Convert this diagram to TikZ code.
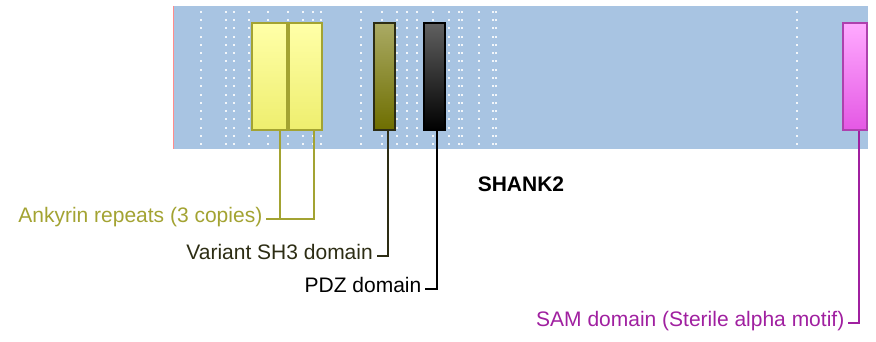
\documentclass[tikz,border=0pt]{standalone}
\usepackage{fontspec}
\setmainfont{Liberation Sans}
\definecolor{bandblue}{RGB}{168,196,226}
\definecolor{ankcol}{RGB}{163,163,50}
\definecolor{sh3col}{RGB}{45,45,20}
\definecolor{samcol}{RGB}{160,32,160}
\begin{document}
\begin{tikzpicture}[x=1pt, y=-1pt,
    band/.style={rectangle, fill=bandblue, minimum width=694pt, minimum height=143pt, inner sep=0pt},
    dom/.style={rectangle, line width=2pt, minimum height=106.7pt, inner sep=0pt},
    lab/.style={anchor=east, inner xsep=3.5pt, inner ysep=0pt, font=\fontsize{21}{25}\selectfont, text height=0.92em, text depth=0.2em},
    conn/.style={line width=1.9pt}
]
\useasboundingbox (0,0) rectangle (876,342);

% Protein band
\node[band] (shank) at (521,77.5) {};
\draw[red!45, line width=1pt] (shank.north west) -- (shank.south west);
\foreach \x in {201,226,234,249,268,288,303,313,321,361,382,397,407,417,433,449,459,462,479,493,496,797}
  \foreach \i in {0,...,16}
    \fill[white, opacity=0.85] (\x-1,11.7+8.29*\i-1) rectangle ++(2,2);
\node[font=\fontsize{21}{25}\selectfont\bfseries] (name) at (521,184) {SHANK2};

% Domains
\node[dom, minimum width=35pt, draw=ankcol, top color={rgb,255:red,255;green,255;blue,168}, bottom color={rgb,255:red,238;green,238;blue,110}] (anka) at (269.8,76.7) {};
\node[dom, minimum width=32.4pt, draw=ankcol, top color={rgb,255:red,255;green,255;blue,168}, bottom color={rgb,255:red,238;green,238;blue,110}] (ankb) at (305.5,76.7) {};
\node[dom, minimum width=21pt, draw=sh3col, top color={rgb,255:red,170;green,170;blue,100}, bottom color={rgb,255:red,110;green,110;blue,0}] (sh3) at (384.8,76.7) {};
\node[dom, minimum width=20.4pt, draw=black, top color={rgb,255:red,96;green,96;blue,96}, bottom color=black] (pdz) at (434.5,76.7) {};
\node[dom, minimum width=24.6pt, draw=samcol!85, top color={rgb,255:red,255;green,170;blue,255}, bottom color={rgb,255:red,228;green,88;blue,228}] (sam) at (855,76.7) {};

% Labels
\node[lab, text=ankcol] (anklab) at (266,219.3) {Ankyrin repeats (3 copies)};
\node[lab, text=sh3col] (sh3lab) at (376.5,256) {Variant SH3 domain};
\node[lab, text=black] (pdzlab) at (425,289.3) {PDZ domain};
\node[lab, text=samcol] (samlab) at (848,323.3) {SAM domain (Sterile alpha motif)};

% Connections
\draw[conn, ankcol] ([xshift=10.2pt]anka.south) |- (anklab.east);
\draw[conn, ankcol] ([xshift=8.8pt]ankb.south) |- (anklab.east);
\draw[conn, sh3col] ([xshift=3pt]sh3.south) |- (sh3lab.east);
\draw[conn, black] ([xshift=2.5pt]pdz.south) |- (pdzlab.east);
\draw[conn, samcol] ([xshift=4.3pt]sam.south) |- (samlab.east);
\end{tikzpicture}
\end{document}
